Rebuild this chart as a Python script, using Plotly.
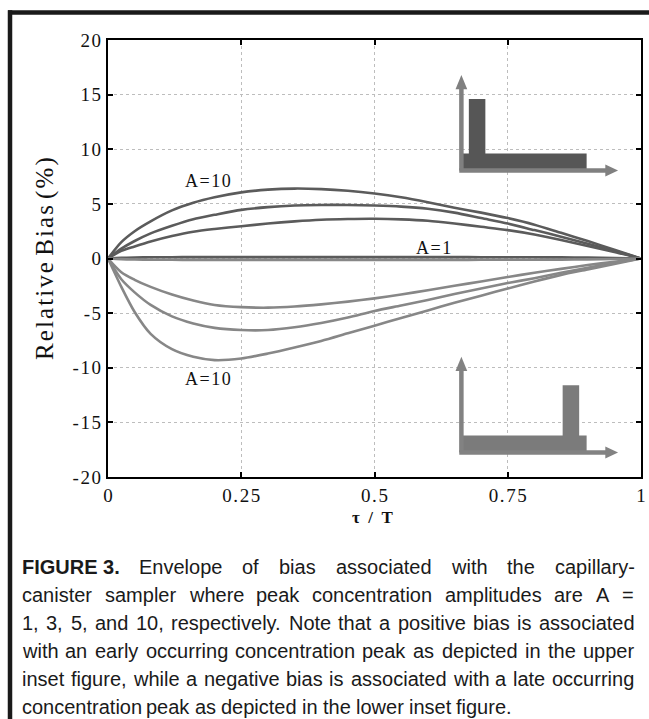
import plotly.graph_objects as go

# ---------------- data ----------------
tau = [0, 0.025, 0.05, 0.08, 0.12, 0.16, 0.2, 0.25, 0.3, 0.35, 0.4, 0.45,
       0.5, 0.55, 0.6, 0.65, 0.7, 0.75, 0.8, 0.85, 0.9, 0.95, 1.0]
pos_A10 = [0, 1.5, 2.5, 3.4, 4.4, 5.1, 5.6, 6.05, 6.3, 6.4, 6.35, 6.2,
           5.95, 5.6, 5.15, 4.65, 4.2, 3.7, 3.1, 2.35, 1.6, 0.8, 0]
pos_A5 = [0, 0.9, 1.6, 2.3, 3.0, 3.6, 4.0, 4.45, 4.7, 4.85, 4.9, 4.9,
          4.85, 4.75, 4.55, 4.2, 3.7, 3.2, 2.6, 2.0, 1.35, 0.7, 0]
pos_A3 = [0, 0.7, 1.1, 1.55, 2.05, 2.45, 2.7, 2.95, 3.2, 3.4, 3.55, 3.62,
          3.64, 3.58, 3.45, 3.2, 2.9, 2.6, 2.2, 1.7, 1.15, 0.6, 0]
pos_A1 = [0, 0.06, 0.09, 0.11, 0.12, 0.13, 0.13, 0.13, 0.13, 0.13, 0.13, 0.13,
          0.13, 0.13, 0.13, 0.13, 0.12, 0.12, 0.11, 0.1, 0.08, 0.05, 0]
neg_A1 = [0, -0.06, -0.09, -0.11, -0.12, -0.13, -0.13, -0.13, -0.13, -0.13, -0.13, -0.13,
          -0.13, -0.13, -0.13, -0.13, -0.12, -0.12, -0.11, -0.1, -0.08, -0.05, 0]
neg_A3 = [0, -1.25, -1.95, -2.6, -3.3, -3.85, -4.25, -4.45, -4.5, -4.4, -4.2, -3.95,
          -3.65, -3.3, -2.9, -2.5, -2.1, -1.7, -1.3, -0.95, -0.6, -0.3, 0]
neg_A5 = [0, -1.9, -3.1, -4.25, -5.3, -5.95, -6.35, -6.55, -6.55, -6.3, -5.9, -5.4,
          -4.8, -4.3, -3.8, -3.25, -2.75, -2.25, -1.8, -1.3, -0.85, -0.4, 0]
neg_A10 = [0, -2.6, -4.9, -6.9, -8.3, -9.0, -9.3, -9.15, -8.7, -8.15, -7.55, -6.85,
           -6.15, -5.45, -4.75, -4.05, -3.4, -2.75, -2.1, -1.5, -1.0, -0.5, 0]

x_ticks = [0, 0.25, 0.5, 0.75, 1]
x_tick_labels = ["0", "0.25", "0.5", "0.75", "1"]
y_ticks = [-20, -15, -10, -5, 0, 5, 10, 15, 20]
y_tick_labels = ["-20", "-15", "-10", "-5", "0", "5", "10", "15", "20"]

caption_lines = [
    ["<b>FIGURE 3.</b>", "Envelope", "of", "bias", "associated", "with", "the", "capillary-"],
    "canister sampler where peak concentration amplitudes are A =".split(),
    "1, 3, 5, and 10, respectively. Note that a positive bias is associated".split(),
    "with an early occurring concentration peak as depicted in the upper".split(),
    "inset figure, while a negative bias is associated with a late occurring".split(),
    "concentration peak as depicted in the lower inset figure.".split(),
]

# ---------------- layout constants ----------------
KX = 655 / 649                       # compensation for horizontal squeeze of the snapshot
W, H = 655, 719
ML = round(107 * KX)
MR = W - round(640 * KX)
MT, MB = 40, 242
PW, PH = W - ML - MR, H - MT - MB
SERIF = "Liberation Serif, Times New Roman, serif"
SANS = "Liberation Sans, Arial, sans-serif"
HS = "\u200a"                        # hair space: mimics the loose tracking of the original

def spaced(s):
    return HS.join(s)

def px2paper_x(px):                  # px in reference-picture pixels
    return (px * KX - ML) / PW

def px2paper_y(py):
    return (H - MB - py) / PH

fig = go.Figure()

DARK = "#5b5b5b"
LIGHT = "#878787"
for ys in [pos_A10, pos_A5, pos_A3, pos_A1]:
    fig.add_trace(go.Scatter(x=tau, y=ys, mode="lines",
                             line=dict(color=DARK, width=2.6, shape="spline", smoothing=0.8),
                             showlegend=False, hoverinfo="skip"))
for ys in [neg_A1, neg_A3, neg_A5, neg_A10]:
    fig.add_trace(go.Scatter(x=tau, y=ys, mode="lines",
                             line=dict(color=LIGHT, width=2.6, shape="spline", smoothing=0.8),
                             showlegend=False, hoverinfo="skip"))

shapes = []
shapes.append(dict(type="line", xref="paper", yref="paper",
                   x0=px2paper_x(7), x1=px2paper_x(652), y0=px2paper_y(12.5), y1=px2paper_y(12.5),
                   line=dict(color="#1a1a1a", width=4.5)))
shapes.append(dict(type="line", xref="paper", yref="paper",
                   x0=px2paper_x(9), x1=px2paper_x(9), y0=px2paper_y(10.3), y1=px2paper_y(H),
                   line=dict(color="#1a1a1a", width=4.5)))

def inset(base_y, top_y, bar_color, arrow_color, pulse_x0, pulse_x1, pulse_top, strip_top):
    s = []
    ax = 0.663
    s.append(dict(type="rect", xref="x", yref="y", x0=0.664, x1=0.898, y0=base_y, y1=strip_top,
                  fillcolor=bar_color, line=dict(width=0)))
    s.append(dict(type="rect", xref="x", yref="y", x0=pulse_x0, x1=pulse_x1, y0=strip_top - 0.3, y1=pulse_top,
                  fillcolor=bar_color, line=dict(width=0)))
    s.append(dict(type="line", xref="x", yref="y", x0=ax, x1=ax, y0=base_y, y1=top_y - 0.9,
                  line=dict(color=arrow_color, width=4.5)))
    s.append(dict(type="line", xref="x", yref="y", x0=ax - 0.004, x1=0.935, y0=base_y, y1=base_y,
                  line=dict(color=arrow_color, width=4.5)))
    s.append(dict(type="path", xref="x", yref="y",
                  path=f"M {ax-0.011},{top_y-1.3} L {ax+0.011},{top_y-1.3} L {ax},{top_y} Z",
                  fillcolor=arrow_color, line=dict(width=0)))
    s.append(dict(type="path", xref="x", yref="y",
                  path=f"M 0.933,{base_y+0.55} L 0.933,{base_y-0.55} L 0.957,{base_y} Z",
                  fillcolor=arrow_color, line=dict(width=0)))
    return s

shapes += inset(8.05, 16.8, "#565656", "#808080", 0.677, 0.708, 14.6, 9.6)
shapes += inset(-17.75, -9.0, "#7b7b7b", "#828282", 0.853, 0.884, -11.6, -16.2)

annotations = []
LBL = dict(family=SERIF, size=18, color="#111")
annotations.append(dict(x=0.187, y=7.1, xref="x", yref="y", text=spaced("A=10"), showarrow=False, font=LBL))
annotations.append(dict(x=0.187, y=-11.0, xref="x", yref="y", text=spaced("A=10"), showarrow=False, font=LBL))
annotations.append(dict(x=0.61, y=0.95, xref="x", yref="y", text=spaced("A=1"), showarrow=False, font=LBL))
annotations.append(dict(x=px2paper_x(372), y=px2paper_y(517), xref="paper", yref="paper",
                        text="<b>τ  /  T</b>", showarrow=False, yanchor="middle",
                        font=dict(family=SERIF, size=17, color="#111")))
annotations.append(dict(x=px2paper_x(44), y=px2paper_y(258), xref="paper", yref="paper",
                        text=spaced("Relative") + " " + spaced("Bias") + " " + spaced("(%)"),
                        textangle=-90, showarrow=False, xanchor="center", yanchor="middle",
                        font=dict(family=SERIF, size=25, color="#111")))

# ---- justified caption using Arial / Liberation Sans metrics ----
AW = {' ': 278, ',': 278, '-': 333, '.': 278, '=': 584, '(': 333, ')': 333,
      'A': 667, 'B': 667, 'C': 722, 'D': 722, 'E': 667, 'F': 611, 'G': 778, 'H': 722,
      'I': 278, 'J': 500, 'K': 667, 'L': 556, 'M': 833, 'N': 722, 'O': 778, 'P': 667,
      'Q': 778, 'R': 722, 'S': 667, 'T': 611, 'U': 722, 'V': 667, 'W': 944, 'X': 667,
      'Y': 667, 'Z': 611,
      'a': 556, 'b': 556, 'c': 500, 'd': 556, 'e': 556, 'f': 278, 'g': 556, 'h': 556,
      'i': 222, 'j': 222, 'k': 500, 'l': 222, 'm': 833, 'n': 556, 'o': 556, 'p': 556,
      'q': 556, 'r': 333, 's': 500, 't': 278, 'u': 556, 'v': 500, 'w': 722, 'x': 500,
      'y': 500, 'z': 500}
for d in "0123456789":
    AW[d] = 556
BW = {'F': 611, 'I': 278, 'G': 778, 'U': 722, 'R': 722, 'E': 667, ' ': 278, '3': 556, '.': 278}

CAP_SIZE = 20
CAP_LEFT, CAP_RIGHT = 20 * KX, 632 * KX          # figure pixels
CAP_Y0, CAP_DY = 567, 28

def word_width(w):
    if w.startswith("<b>"):
        raw = w[3:-4]
        return sum(BW.get(c, 600) for c in raw) * CAP_SIZE / 1000
    return sum(AW.get(c, 556) for c in w) * CAP_SIZE / 1000

for i, words in enumerate(caption_lines):
    py = CAP_Y0 + i * CAP_DY
    widths = [word_width(w) for w in words]
    last = i == len(caption_lines) - 1
    if last:
        gap = AW[' '] * CAP_SIZE / 1000
    else:
        gap = max((CAP_RIGHT - CAP_LEFT - sum(widths)) / (len(words) - 1), 2.5)
    xpos = CAP_LEFT
    for w, wd in zip(words, widths):
        annotations.append(dict(x=(xpos - ML) / PW, y=px2paper_y(py), xref="paper", yref="paper",
                                text=w, showarrow=False, xanchor="left", yanchor="middle",
                                borderpad=0,
                                font=dict(family=SANS, size=CAP_SIZE, color="#1a1a1a")))
        xpos += wd + gap

fig.update_layout(
    width=W, height=H,
    margin=dict(l=ML, r=MR, t=MT, b=MB),
    paper_bgcolor="white", plot_bgcolor="white",
    shapes=shapes, annotations=annotations,
    xaxis=dict(range=[0, 1], tickvals=x_ticks, ticktext=[spaced(s) for s in x_tick_labels],
               showgrid=True, gridcolor="#bdbdbd", griddash="3px,3px", gridwidth=1,
               showline=True, linecolor="black", linewidth=2.2, mirror="ticks",
               ticks="inside", ticklen=5, tickwidth=2, tickcolor="black",
               zeroline=False, ticklabelstandoff=0,
               tickfont=dict(family=SERIF, size=19, color="#111")),
    yaxis=dict(range=[-20, 20], tickvals=y_ticks, ticktext=[spaced(s) for s in y_tick_labels],
               showgrid=True, gridcolor="#bdbdbd", griddash="3px,3px", gridwidth=1,
               showline=True, linecolor="black", linewidth=2.2, mirror="ticks",
               ticks="inside", ticklen=5, tickwidth=2, tickcolor="black",
               zeroline=False, ticklabelstandoff=1,
               tickfont=dict(family=SERIF, size=19, color="#111")),
)

fig.write_html(
    "out.html",
    config={"displayModeBar": False},
    post_script=("document.body.style.margin='0';"
                 "document.body.style.overflow='hidden';"
                 "document.documentElement.style.overflow='hidden';"),
)
